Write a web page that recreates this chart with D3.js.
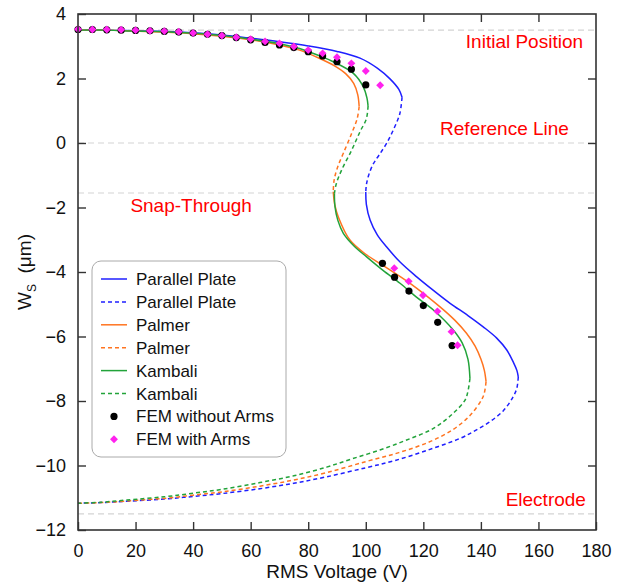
<!DOCTYPE html>
<html>
<head>
<meta charset="utf-8">
<script src="https://cdn.jsdelivr.net/npm/d3@7"></script>
<style>
  body { margin: 0; background: #fff; }
  svg { font-family: Arial, "Liberation Sans", sans-serif; }
</style>
</head>
<body>
<div id="chart"></div>
<script>
// curve samples [V, Ws], split at the turning points (solid = stable, dashed = unstable)
const ppUpper = [[0,3.5],[10,3.5],[20,3.48],[30,3.46],[40,3.42],[50,3.35],[60,3.25],[70,3.14],[80,3.01],[90,2.84],[98,2.63],[104,2.32],[108.5,1.98],[111.5,1.66],[112.6,1.42]];
const ppMid = [[112.6,1.42],[111.8,0.9],[109.8,0.45],[107.3,0.0],[104.8,-0.35],[102.6,-0.65],[101,-1.0],[100.2,-1.3],[100,-1.52]];
const ppLower = [[100,-1.52],[100.2,-1.9],[101.5,-2.39],[104,-2.85],[107.2,-3.22],[112,-3.7],[117.7,-4.15],[123.5,-4.57],[129.3,-4.97],[135.5,-5.35],[140.8,-5.7],[145.5,-6.05],[149,-6.42],[151.3,-6.8],[152.5,-7.05],[153,-7.25]];
const ppTail = [[153,-7.25],[152.5,-7.6],[151.2,-7.87],[147.8,-8.3],[143,-8.65],[138,-8.92],[133,-9.15],[122.3,-9.5],[110,-9.85],[100,-10.07],[86.4,-10.35],[75,-10.55],[63.2,-10.72],[50,-10.87],[40,-10.96],[30,-11.04],[17,-11.11],[8,-11.15],[0,-11.17]];

const palUpper = [[0,3.5],[10,3.5],[20,3.47],[30,3.44],[40,3.39],[50,3.31],[60,3.2],[70,3.04],[77,2.88],[84,2.62],[89,2.4],[93,2.15],[95.8,1.85],[97.2,1.5],[97.7,1.13]];
const palMid = [[97.7,1.13],[97,0.75],[95.1,0.3],[92.2,-0.32],[90.2,-0.75],[89,-1.15],[88.7,-1.51]];
const palLower = [[88.7,-1.51],[89.2,-1.9],[90.5,-2.3],[94.5,-3.01],[100,-3.45],[106.1,-3.8],[115.4,-4.35],[125.8,-5.08],[131,-5.5],[135,-5.9],[138,-6.3],[140,-6.7],[141.2,-7.05],[141.8,-7.4]];
const palTail = [[141.8,-7.4],[141.2,-7.75],[140.3,-7.95],[136.2,-8.45],[130.4,-8.88],[122.3,-9.26],[111.5,-9.6],[100,-9.88],[86.4,-10.22],[75,-10.45],[63.2,-10.64],[50,-10.82],[40,-10.92],[30,-11.02],[17,-11.1],[8,-11.15],[0,-11.17]];

const kamUpper = [[0,3.5],[10,3.5],[20,3.47],[30,3.45],[40,3.4],[50,3.33],[60,3.22],[70,3.08],[77,2.93],[84,2.7],[88.7,2.52],[95.7,2.16],[99.1,1.75],[100.4,1.4],[100.8,1.15]];
const kamMid = [[100.8,1.15],[100.2,0.75],[98,0.35],[95.1,-0.22],[91.6,-0.84],[89.8,-1.25],[89.1,-1.56]];
const kamLower = [[89.1,-1.56],[89.3,-1.97],[90.3,-2.4],[92.2,-2.8],[96,-3.2],[100.3,-3.53],[106,-3.95],[111.9,-4.35],[117.5,-4.77],[123.5,-5.18],[130.4,-5.8],[133.5,-6.2],[135.5,-6.7],[136.2,-7.3]];
const kamTail = [[136.2,-7.3],[135.5,-7.7],[134.5,-7.97],[130.4,-8.38],[123.5,-8.85],[114.2,-9.21],[104.9,-9.52],[95,-9.8],[86.4,-10.05],[75,-10.32],[63.2,-10.53],[50,-10.74],[40,-10.86],[30,-10.97],[17,-11.07],[8,-11.14],[0,-11.17]];

// FEM results
const femNoArms = [[0,3.52],[5,3.52],[10,3.51],[15,3.5],[20,3.49],[25,3.48],[30,3.46],[35,3.44],[40,3.41],[45,3.37],[50,3.33],[55,3.27],[60,3.2],[65,3.12],[70,3.04],[75,2.96],[80,2.83],[85,2.7],[90,2.52],[95,2.29],[100,1.8],
                   [105.8,-3.73],[110,-4.16],[115,-4.59],[120,-5.04],[125,-5.56],[130,-6.28]];
const femArms = [[0,3.53],[5,3.52],[10,3.52],[15,3.51],[20,3.5],[25,3.48],[30,3.47],[35,3.45],[40,3.41],[45,3.37],[50,3.33],[55,3.28],[60,3.22],[65,3.15],[70,3.09],[75,2.99],[80,2.88],[85,2.78],[90,2.66],[95,2.47],[100,2.23],[105,1.79],
                 [109.9,-3.88],[114.9,-4.29],[119.9,-4.72],[124.9,-5.22],[129.8,-5.85],[131.9,-6.27]];

// reference levels
const refLevels = [3.5, 0, -1.55, -11.5];
const refLabels = [
  {text: 'Initial Position', v: 175.5, w: 2.95, anchor: 'end'},
  {text: 'Reference Line', v: 170.6, w: 0.25, anchor: 'end'},
  {text: 'Snap-Through', v: 18.2, w: -2.15, anchor: 'start'},
  {text: 'Electrode', v: 176.5, w: -11.25, anchor: 'end'}
];

const xTicks = d3.range(0, 181, 20);
const yTicks = d3.range(-12, 5, 2);

const legendNames = ['Parallel Plate', 'Parallel Plate', 'Palmer', 'Palmer', 'Kambali', 'Kambali', 'FEM without Arms', 'FEM with Arms'];

const blue = '#1f1fff', orange = '#ff7420', green = '#22a33a', pink = '#ff22ee';

let w = 635, h = 583;
let mLeft = 78, mRight = 596, mTop = 14, mBottom = 530;

let xScale = d3.scaleLinear().domain([0, 180]).range([mLeft, mRight]);
let yScale = d3.scaleLinear().domain([-12, 4]).range([mBottom, mTop]);

let svg = d3.select('#chart').append('svg').attr('width', w).attr('height', h);

// dashed reference lines
svg.selectAll('.ref')
   .data(refLevels)
   .enter()
   .append('line')
   .attr('x1', mLeft).attr('x2', mRight)
   .attr('y1', (d) => yScale(d)).attr('y2', (d) => yScale(d))
   .attr('stroke', '#d4d4d4')
   .attr('stroke-width', 1.2)
   .attr('stroke-dasharray', '6,4');

let line = d3.line()
             .x((d) => xScale(d[0]))
             .y((d) => yScale(d[1]))
             .curve(d3.curveCatmullRom.alpha(0.5));

const curves = [
  {pts: ppUpper, c: blue, dash: null}, {pts: ppMid, c: blue, dash: '4,3'},
  {pts: ppLower, c: blue, dash: null}, {pts: ppTail, c: blue, dash: '4,3'},
  {pts: palUpper, c: orange, dash: null}, {pts: palMid, c: orange, dash: '4,3'},
  {pts: palLower, c: orange, dash: null}, {pts: palTail, c: orange, dash: '4,3'},
  {pts: kamUpper, c: green, dash: null}, {pts: kamMid, c: green, dash: '4,3'},
  {pts: kamLower, c: green, dash: null}, {pts: kamTail, c: green, dash: '4,3'}
];

svg.selectAll('.curve')
   .data(curves)
   .enter()
   .append('path')
   .attr('class', 'curve')
   .attr('d', (d) => line(d.pts))
   .attr('fill', 'none')
   .attr('stroke', (d) => d.c)
   .attr('stroke-width', 1.5)
   .attr('stroke-dasharray', (d) => d.dash);

// FEM points
svg.selectAll('.dot')
   .data(femNoArms)
   .enter()
   .append('circle')
   .attr('cx', (d) => xScale(d[0]))
   .attr('cy', (d) => yScale(d[1]))
   .attr('r', 3.6)
   .attr('fill', '#000');

let diamond = d3.symbol().type(d3.symbolDiamond2).size(40);
svg.selectAll('.dia')
   .data(femArms)
   .enter()
   .append('path')
   .attr('d', diamond)
   .attr('transform', (d) => 'translate(' + xScale(d[0]) + ',' + yScale(d[1]) + ')')
   .attr('fill', pink);

// frame and ticks (all inward)
const axisColor = '#333';
svg.append('rect')
   .attr('x', mLeft).attr('y', mTop)
   .attr('width', mRight - mLeft).attr('height', mBottom - mTop)
   .attr('fill', 'none')
   .attr('stroke', axisColor)
   .attr('stroke-width', 1.6);

let xAxis = d3.axisBottom(xScale).tickValues(xTicks).tickSizeInner(-8).tickSizeOuter(0).tickPadding(14);
let yAxis = d3.axisLeft(yScale).tickValues(yTicks).tickSizeInner(-8).tickSizeOuter(0).tickPadding(12);
let xTop = d3.axisTop(xScale).tickValues(xTicks.slice(1, -1)).tickSizeInner(-8).tickSizeOuter(0).tickFormat('');
let yRight = d3.axisRight(yScale).tickValues(yTicks.slice(1, -1)).tickSizeInner(-8).tickSizeOuter(0).tickFormat('');

[
  svg.append('g').attr('transform', 'translate(0,' + mBottom + ')').call(xAxis),
  svg.append('g').attr('transform', 'translate(' + mLeft + ',0)').call(yAxis),
  svg.append('g').attr('transform', 'translate(0,' + mTop + ')').call(xTop),
  svg.append('g').attr('transform', 'translate(' + mRight + ',0)').call(yRight)
].forEach((g) => {
  g.select('.domain').remove();
  g.selectAll('line').attr('stroke', axisColor).attr('stroke-width', 1.4);
  g.selectAll('text').attr('fill', '#111').style('font-size', '18px').style('font-family', 'Arial, "Liberation Sans", sans-serif');
});

// axis titles
svg.append('text')
   .attr('x', (mLeft + mRight) / 2)
   .attr('y', 578)
   .attr('text-anchor', 'middle')
   .style('font-size', '19px')
   .attr('fill', '#111')
   .text('RMS Voltage (V)');

let yt = svg.append('text')
   .attr('transform', 'translate(31,' + ((mTop + mBottom) / 2) + ') rotate(-90)')
   .attr('text-anchor', 'middle')
   .style('font-size', '19px')
   .attr('fill', '#111');
yt.append('tspan').text('W');
yt.append('tspan').attr('dy', 5).style('font-size', '12px').text('S');
yt.append('tspan').attr('dy', -5).text('\u00a0 (\u03bcm)');

// red annotations
svg.selectAll('.ann')
   .data(refLabels)
   .enter()
   .append('text')
   .attr('x', (d) => xScale(d.v))
   .attr('y', (d) => yScale(d.w))
   .attr('text-anchor', (d) => d.anchor)
   .attr('fill', '#f00')
   .style('font-size', '19px')
   .text((d) => d.text);

// legend
let legend = svg.append('g').attr('id', 'legend');
legend.append('rect')
      .attr('x', 92).attr('y', 261)
      .attr('width', 194).attr('height', 196)
      .attr('rx', 9)
      .attr('fill', '#fff')
      .attr('stroke', '#aaa')
      .attr('stroke-width', 1);

const legendStyle = [
  {c: blue, dash: null}, {c: blue, dash: '4,3'},
  {c: orange, dash: null}, {c: orange, dash: '4,3'},
  {c: green, dash: null}, {c: green, dash: '4,3'},
  {c: '#000', mark: 'dot'}, {c: pink, mark: 'dia'}
];

legendNames.forEach((name, i) => {
  let y = 279 + i * 22.9;
  let s = legendStyle[i];
  if (s.mark === 'dot') {
    legend.append('circle').attr('cx', 114).attr('cy', y).attr('r', 3.6).attr('fill', s.c);
  } else if (s.mark === 'dia') {
    legend.append('path').attr('d', diamond).attr('transform', 'translate(114,' + y + ')').attr('fill', s.c);
  } else {
    legend.append('line')
          .attr('x1', 101).attr('x2', 127)
          .attr('y1', y).attr('y2', y)
          .attr('stroke', s.c)
          .attr('stroke-width', 1.5)
          .attr('stroke-dasharray', s.dash);
  }
  legend.append('text')
        .attr('x', 136)
        .attr('y', y + 6)
        .attr('fill', '#111')
        .style('font-size', '17px')
        .text(name);
});
</script>
</body>
</html>
